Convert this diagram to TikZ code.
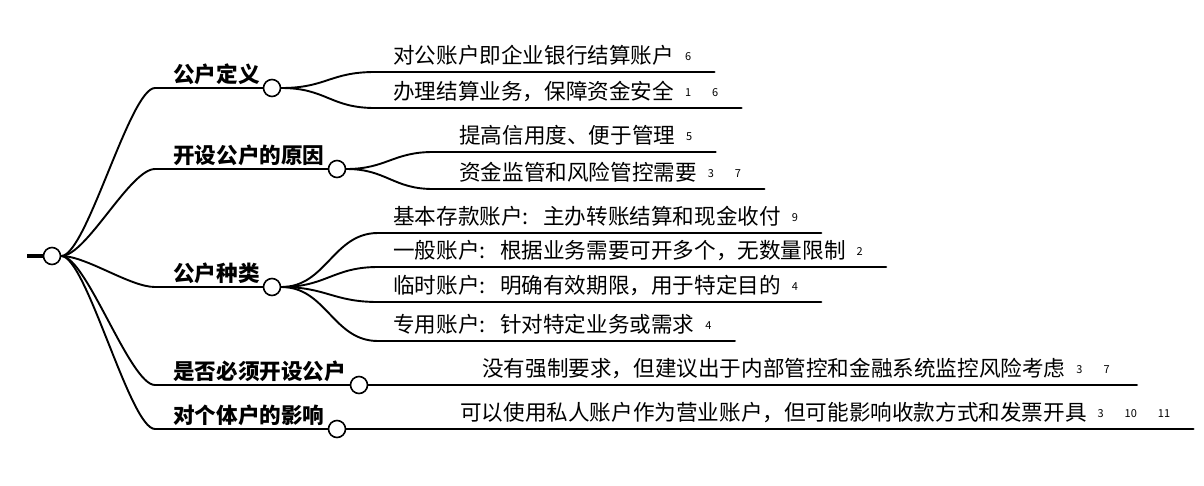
\documentclass[tikz,border=0pt]{standalone}
\usepackage{fontspec}
\setmainfont{Noto Sans CJK SC}
\usetikzlibrary{calc}
\newcommand{\refs}[1]{\hspace{11pt}\raisebox{3.5pt}{\fontsize{11}{11}\selectfont #1}}
\newcommand{\gap}{\hspace{21pt}}
\newcommand{\colsp}{: \hspace{8pt}}

\begin{document}
\begin{tikzpicture}[x=1pt,y=-1pt,line cap=round,line join=round,
  hub/.style={circle,draw,line width=1.6pt,fill=white,inner sep=0pt,minimum size=17pt},
  cat/.style={anchor=base west,inner sep=0pt,font=\fontsize{21.6}{24}\selectfont\bfseries},
  leaf/.style={anchor=base west,inner sep=0pt,font=\fontsize{21.6}{24}\selectfont},
  branch/.style={line width=1.9pt},
  bar/.style={line width=2.6pt}]
\useasboundingbox (0,0) rectangle (1204,485);

% root
\coordinate (r0) at (27,256);
\node[hub] (r) at (52,256) {};
\draw[line width=4pt,line cap=butt] (r0) -- (r.west);

% categories
\coordinate (k1) at (155,88);
\coordinate (k2) at (155,169);
\coordinate (k3) at (155,287);
\coordinate (k4) at (155,385);
\coordinate (k5) at (155,429);
\node[cat] (t1) at (173,82.5) {公户定义};
\node[cat] (t2) at (173,163.5) {开设公户的原因};
\node[cat] (t3) at (173,281.5) {公户种类};
\node[cat] (t4) at (173,379.5) {是否必须开设公户};
\node[cat] (t5) at (173,423.5) {对个体户的影响};
\foreach \k in {1,...,5}
  \draw[branch] (r.east) .. controls +(25,0) and +(-25,0) .. (k\k);
\node[hub] (c1) at (272,88) {};
\node[hub] (c2) at (337,169) {};
\node[hub] (c3) at (272,287) {};
\node[hub] (c4) at (359,385) {};
\node[hub] (c5) at (337,429) {};
\foreach \k in {1,...,5}
  \draw[bar] (k\k) -- (c\k.west);

% leaves of 公户定义
\coordinate (s11) at (375,72);
\coordinate (s12) at (375,108);
\node[leaf] (a11) at (393,63.5) {对公账户即企业银行结算账户\refs{6}};
\node[leaf] (a12) at (393,99.5) {办理结算业务，保障资金安全\refs{1\gap 6}};
\draw[branch] (c1.east) .. controls +(45,0) and +(-45,0) .. (s11);
\draw[branch] (c1.east) .. controls +(45,0) and +(-45,0) .. (s12);
\draw[bar] (s11) -- ($(a11.base east)+(23,8.5)$);
\draw[bar] (s12) -- ($(a12.base east)+(23,8.5)$);

% leaves of 开设公户的原因
\coordinate (s21) at (433,152);
\coordinate (s22) at (433,189);
\node[leaf] (a21) at (459,143.5) {提高信用度、便于管理\refs{5}};
\node[leaf] (a22) at (459,180.5) {资金监管和风险管控需要\refs{3\gap 7}};
\draw[branch] (c2.east) .. controls +(40,0) and +(-40,0) .. (s21);
\draw[branch] (c2.east) .. controls +(40,0) and +(-40,0) .. (s22);
\draw[bar] (s21) -- ($(a21.base east)+(23,8.5)$);
\draw[bar] (s22) -- ($(a22.base east)+(23,8.5)$);

% leaves of 公户种类
\coordinate (s31) at (378,233);
\coordinate (s32) at (378,267);
\coordinate (s33) at (378,302);
\coordinate (s34) at (378,341);
\node[leaf] (a31) at (393,224.5) {基本存款账户\colsp 主办转账结算和现金收付\refs{9}};
\node[leaf] (a32) at (393,258.5) {一般账户\colsp 根据业务需要可开多个，无数量限制\refs{2}};
\node[leaf] (a33) at (393,293.5) {临时账户\colsp 明确有效期限，用于特定目的\refs{4}};
\node[leaf] (a34) at (393,332.5) {专用账户\colsp 针对特定业务或需求\refs{4}};
\foreach \k in {1,...,4}{
  \draw[branch] (c3.east) .. controls +(45,0) and +(-45,0) .. (s3\k);
  \draw[bar] (s3\k) -- ($(a3\k.base east)+(23,8.5)$);
}

% leaves of 是否必须开设公户 / 对个体户的影响
\node[leaf] (a41) at (482,376.5) {没有强制要求，但建议出于内部管控和金融系统监控风险考虑\refs{3\gap 7}};
\node[leaf] (a51) at (460,420.5) {可以使用私人账户作为营业账户，但可能影响收款方式和发票开具\refs{3\gap 10\gap 11}};
\draw[bar] (c4.east) -- ($(a41.base east)+(27,8.5)$);
\draw[bar] (c5.east) -- ($(a51.base east)+(23,8.5)$);
\end{tikzpicture}
\end{document}
